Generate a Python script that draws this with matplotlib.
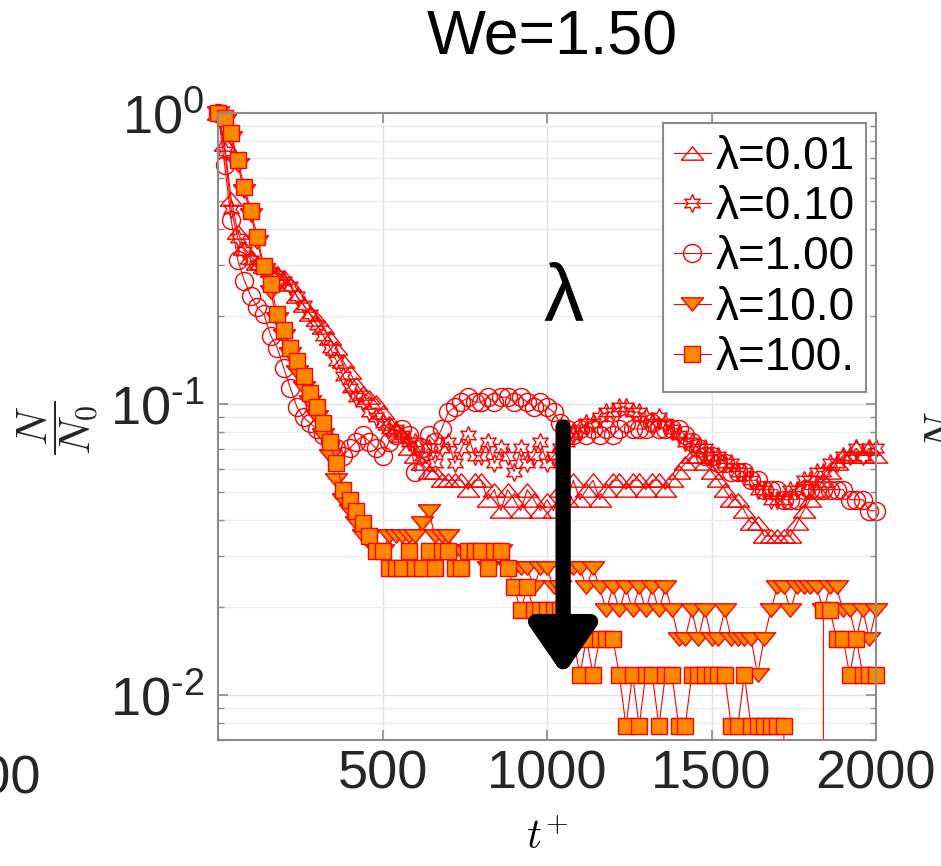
import numpy as np
import matplotlib
matplotlib.use("Agg")
import matplotlib.pyplot as plt
from matplotlib.ticker import FixedLocator, FixedFormatter, NullFormatter

plt.rcParams["font.family"] = "Liberation Sans"
plt.rcParams["mathtext.fontset"] = "custom"
plt.rcParams["mathtext.rm"] = "Liberation Sans"
plt.rcParams["mathtext.it"] = "Liberation Sans:italic"

# particle count N (out of N0) sampled every 20 time units, t+ = 0..2000
N0 = 256
t_plus = np.arange(0, 2001, 20)

n_lam001 = [
    256, 200, 130, 100, 88, 82, 78, 76, 74, 72,
    70, 66, 60, 56, 52, 50, 47, 43, 40, 36,
    33, 30, 28, 27, 26, 24, 22, 21, 20, 18,
    17, 16, 15, 15, 14, 14, 14, 14, 13, 14,
    14, 12, 13, 11, 13, 12, 11, 13, 12, 11,
    12, 11, 13, 12, 14, 12, 13, 14, 12, 13,
    14, 14, 13, 14, 14, 13, 14, 14, 13, 14,
    15, 16, 17, 17, 16, 15, 14, 13, 12, 12,
    11, 10, 10, 9, 9, 9, 9, 9, 10, 11,
    12, 13, 14, 15, 16, 17, 17, 18, 17, 18,
    17,
]
n_lam01 = [
    256, 190, 120, 95, 86, 80, 77, 75, 73, 71,
    68, 65, 60, 56, 52, 48, 44, 40, 36, 32,
    29, 27, 26, 24, 23, 22, 21, 21, 20, 19,
    19, 17, 18, 16, 18, 19, 16, 18, 20, 17,
    17, 19, 16, 18, 17, 15, 18, 16, 17, 19,
    16, 17, 18, 19, 20, 21, 22, 22, 23, 24,
    24, 25, 25, 24, 24, 23, 22, 23, 22, 21,
    20, 19, 19, 18, 18, 17, 17, 16, 16, 15,
    15, 14, 13, 13, 12, 12, 12, 13, 13, 14,
    14, 15, 15, 16, 16, 17, 17, 18, 17, 18,
    18,
]
n_lam1 = [
    256, 170, 110, 80, 68, 60, 55, 52, 44, 40,
    34, 29, 25, 23, 22, 21, 20, 19, 18, 17,
    18, 19, 20, 19, 18, 17, 19, 20, 21, 20,
    15, 18, 20, 19, 21, 24, 25, 26, 27, 26,
    26, 27, 26, 27, 27, 26, 27, 26, 25, 26,
    25, 24, 22, 21, 20, 21, 20, 21, 20, 21,
    20, 21, 22, 21, 21, 21, 22, 21, 21, 21,
    21, 20, 19, 18, 17, 17, 16, 16, 15, 15,
    15, 14, 14, 13, 13, 13, 12, 12, 12, 13,
    13, 13, 13, 13, 13, 13, 12, 12, 12, 11,
    11,
]
n_lam10 = [
    256, 240, 210, 170, 138, 114, 92, 74, 62, 50,
    44, 38, 33, 29, 26, 23, 20, 17, 14, 12,
    11, 10, 9, 9, 8, 8, 9, 9, 9, 9,
    9, 10, 11, 9, 9, 9, 8, 8, 8, 8,
    8, 7, 8, 8, 7, 7, 7, 7, 6, 7,
    7, 6, 6, 7, 7, 7, 6, 7, 6, 5,
    6, 5, 6, 5, 6, 5, 6, 5, 6, 5,
    4, 4, 5, 4, 5, 4, 4, 5, 4, 4,
    4, 4, 3, 4, 5, 6, 6, 5, 6, 6,
    6, 6, 5, 6, 6, 5, 5, 4, 5, 4,
    5,
]
n_lam100 = [
    256, 246, 218, 176, 142, 118, 96, 76, 66, 52,
    46, 40, 36, 32, 28, 25, 22, 19, 16, 13,
    12, 11, 10, 9, 8, 8, 7, 7, 7, 8,
    7, 7, 8, 7, 8, 8, 7, 7, 8, 8,
    8, 7, 8, 8, 7, 6, 5, 6, 5, 5,
    5, 5, 5, 4, 4, 3, 4, 3, 4, 4,
    4, 3, 2, 3, 2, 3, 3, 2, 3, 3,
    2, 2, 3, 3, 3, 3, 3, 3, 2, 2,
    3, 2, 2, 2, 2, 2, 2, 0, 0, 0,
    0, 0, 5, 5, 4, 4, 3, 4, 3, 3,
    3,
]

labels = ["λ=0.01", "λ=0.10", "λ=1.00", "λ=10.0", "λ=100."]
counts = [n_lam001, n_lam01, n_lam1, n_lam10, n_lam100]
ytick_text = ["$\\mathdefault{10^{\u20102}}$",
              "$\\mathdefault{10^{\u20101}}$",
              "$\\mathdefault{10^{0}}$"]

red = "#ff0000"
orange = "#ff8800"
tri_up = [(-1, -0.6), (1, -0.6), (0, 0.6), (-1, -0.6)]
tri_down = [(-1, 0.6), (1, 0.6), (0, -0.6), (-1, 0.6)]
styles = [
    dict(marker=tri_up, markersize=16, markerfacecolor="none"),
    dict(marker=(6, 1, 0), markersize=13, markerfacecolor="none"),
    dict(marker="o", markersize=13, markerfacecolor="none"),
    dict(marker=tri_down, markersize=16, markerfacecolor=orange),
    dict(marker="s", markersize=11, markerfacecolor=orange),
]

fig = plt.figure(figsize=(9.41, 8.66), dpi=100)
ax = fig.add_axes([218 / 941, 1 - 740 / 866, 658 / 941, 627 / 866])
ax.set_yscale("log")

handles = []
for n, st in zip(counts, styles):
    frac = np.array(n, dtype=float) / N0
    line, = ax.plot(t_plus, frac, "-", color=red, lw=0.8)
    shown = np.where(frac > 0, frac, np.nan)
    mk, = ax.plot(t_plus, shown, ls="none", markeredgecolor=red,
                  markeredgewidth=1.0, clip_on=False, **st)
    handles.append((line, mk))

ax.set_xlim(0, 2000)
ax.set_ylim(0.007, 1)

ax.xaxis.set_major_locator(FixedLocator([500, 1000, 1500, 2000]))
ax.xaxis.set_major_formatter(FixedFormatter(["500", "1000", "1500", "2000"]))
ax.yaxis.set_major_locator(FixedLocator([1e-2, 1e-1, 1e0]))
ax.yaxis.set_major_formatter(FixedFormatter(ytick_text))
minor = [m * 10.0 ** e for e in (-3, -2, -1) for m in range(2, 10)]
ax.yaxis.set_minor_locator(FixedLocator([v for v in minor if 0.007 <= v <= 1]))
ax.yaxis.set_minor_formatter(NullFormatter())

ax.tick_params(which="both", direction="in", top=True, right=True,
               colors="#8c8c8c", labelcolor="#262626", labelsize=39)
ax.tick_params(which="major", length=7, width=1.2)
ax.tick_params(which="minor", length=4, width=1.0)
ax.tick_params(axis="x", pad=7)
ax.tick_params(axis="y", pad=10)
for sp in ax.spines.values():
    sp.set_color("#8c8c8c")
    sp.set_linewidth(1.5)

ax.grid(True, which="major", color="#e3e3e3", lw=1.0)
ax.grid(True, which="minor", axis="y", color="#ececec", lw=1.0)
ax.set_axisbelow(True)

leg = ax.legend(handles, labels, loc="upper right", fontsize=33,
                frameon=True, fancybox=False, framealpha=1,
                edgecolor="#8c8c8c", borderpad=0.25, labelspacing=0.14,
                handlelength=0.8, handletextpad=0.1, borderaxespad=0.22)
leg.get_frame().set_linewidth(1.5)

# trend arrow for increasing viscosity ratio
ax.annotate("", xy=(1049, 0.0117), xytext=(1049, 0.0834),
            arrowprops=dict(arrowstyle="-|>,head_length=0.48,head_width=0.33",
                            mutation_scale=60, lw=11, color="black",
                            shrinkA=0, shrinkB=0, capstyle="round",
                            joinstyle="round"))
ax.text(1049, 0.23, "λ", fontsize=58, ha="center", va="center")

fig.text(552 / 941, 1 - 38 / 866, "We=1.50", fontsize=45,
         ha="center", va="center")
fig.text(547 / 941, 1 - 838 / 866, r"$t^{+}$", fontsize=30,
         ha="center", va="center", math_fontfamily="cm")
fig.text(58 / 941, 1 - 428 / 866, r"$\dfrac{N}{N_0}$", fontsize=31,
         rotation=90, ha="center", va="center", math_fontfamily="cm",
         color="#262626")
# pieces of the neighbouring panels
fig.text(966 / 941, 1 - 433 / 866, r"$\dfrac{N}{N_0}$", fontsize=31,
         rotation=90, ha="center", va="center", math_fontfamily="cm",
         color="#262626")
fig.text(41 / 941, 1 - 780 / 866, "2000", fontsize=39, color="#262626",
         ha="right", va="center")

fig.savefig("out.png", dpi=100)
